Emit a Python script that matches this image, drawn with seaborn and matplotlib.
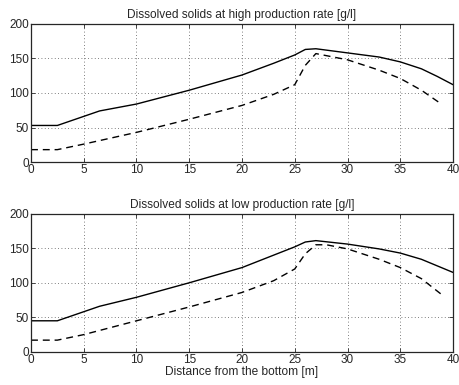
import matplotlib
matplotlib.use("Agg")
import matplotlib.pyplot as plt
import seaborn as sns
import pandas as pd

sns.set_style("ticks")
plt.rcParams['font.family'] = ['Liberation Sans', 'DejaVu Sans']

# High production rate
hi_solid_x = [0, 2.5, 6.5, 10, 15, 20, 23, 25, 26, 27, 30, 33, 35, 37, 38.5, 40]
hi_solid_y = [53, 53, 74, 84, 104, 126, 143, 155, 163, 164, 158, 152, 145, 135, 124, 112]
hi_dash_x = [0, 2.5, 5, 10, 15, 20, 23, 25, 26, 27, 30, 33, 35, 37, 38.8]
hi_dash_y = [18, 18, 26, 43, 62, 82, 98, 112, 140, 157, 148, 133, 121, 104, 85]

# Low production rate
lo_solid_x = [0, 2.5, 6.5, 10, 15, 20, 23, 25, 26, 27, 30, 33, 35, 37, 40]
lo_solid_y = [45, 45, 66, 79, 100, 122, 140, 152, 159, 161, 156, 149, 143, 134, 115]
lo_dash_x = [0, 2.5, 5, 10, 15, 20, 23, 25, 26, 27, 28, 30, 33, 35, 37, 39]
lo_dash_y = [17, 17, 25, 45, 65, 86, 103, 120, 142, 155, 155, 149, 134, 122, 106, 82]

titles = ["Dissolved solids at high production rate [g/l]",
          "Dissolved solids at low production rate [g/l]"]
xticks = [0, 5, 10, 15, 20, 25, 30, 35, 40]
yticks = [0, 50, 100, 150, 200]

fig = plt.figure(figsize=(4.59, 3.85), dpi=100)
ax1 = fig.add_axes([0.0675, 0.579, 0.9195, 0.359])
ax2 = fig.add_axes([0.0675, 0.086, 0.9195, 0.359])

series = [((hi_solid_x, hi_solid_y), (hi_dash_x, hi_dash_y)),
          ((lo_solid_x, lo_solid_y), (lo_dash_x, lo_dash_y))]

for ax, title, (s, d) in zip([ax1, ax2], titles, series):
    sns.lineplot(x=s[0], y=s[1], ax=ax, color='black', lw=1.0, sort=False)
    sns.lineplot(x=d[0], y=d[1], ax=ax, color='black', lw=1.0, sort=False,
                 linestyle=(0, (5, 3.5)))
    ax.set_xlim(0, 40)
    ax.set_ylim(0, 200)
    ax.set_xticks(xticks)
    ax.set_yticks(yticks)
    ax.grid(True, color='#555555', linestyle=(0, (1, 3)), lw=0.6)
    ax.tick_params(direction='in', labelsize=8.5, length=3, pad=1.5, width=0.6,
                   top=True, right=True)
    for sp in ax.spines.values():
        sp.set_linewidth(0.9)
        sp.set_visible(True)
    ax.set_title(title, fontsize=8.6, pad=4)

ax2.set_xlabel("Distance from the bottom [m]", fontsize=8.6, labelpad=0)

fig.savefig("out.png", dpi=100)
